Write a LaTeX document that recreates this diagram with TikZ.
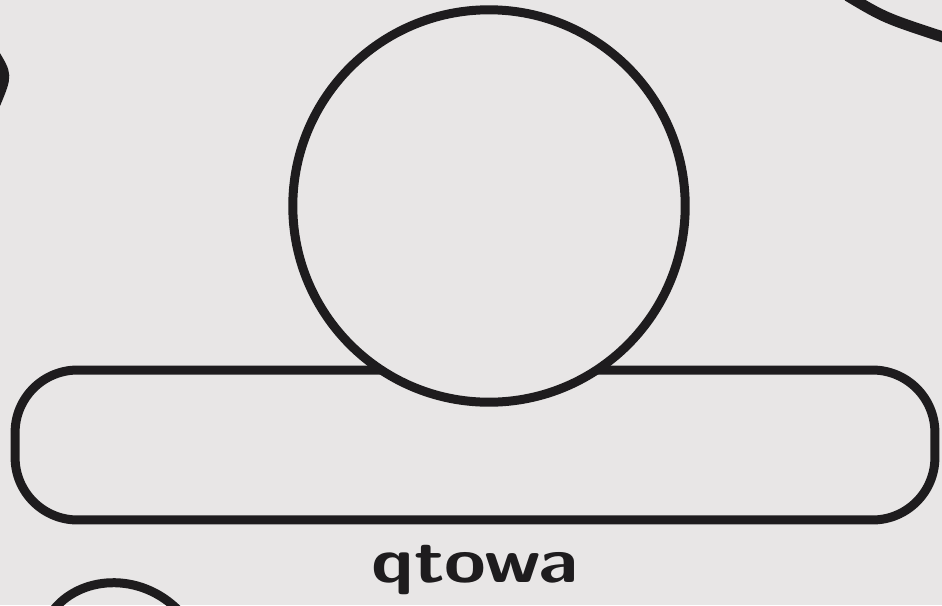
\documentclass[tikz,border=0pt]{standalone}
\usepackage{tikz}
\usetikzlibrary{positioning}
\definecolor{paper}{RGB}{232,230,230}
\definecolor{ink}{RGB}{30,28,30}

\begin{document}
\begin{tikzpicture}[x=0.02cm, y=-0.02cm, line width=0.18cm, ink, line cap=round]
  \fill[paper] (0,0) rectangle (942,605);
  \useasboundingbox (0,0) rectangle (942,605);
  % bar and ball
  \node[draw, rounded corners=1.25cm, minimum width=18.4cm, minimum height=3.0cm,
    inner sep=0pt] (bar) at (475,445) {};
  \node[draw, circle, fill=paper, minimum size=7.85cm, inner sep=0pt] (ball) at (489,206) {};
  \node[font=\sffamily\bfseries\fontsize{36}{36}\selectfont, xscale=1.2,
    below=0.2cm of bar] (label) {qtowa};
  % pieces cut off at the edges
  \draw (-6,52) .. controls (8,75) .. (-4,104);
  \draw[line width=0.22cm] (848,-4) .. controls (885,18) .. (946,38);
  \draw (52,612) .. controls (78,576) and (140,570) .. (180,612);
\end{tikzpicture}
\end{document}
